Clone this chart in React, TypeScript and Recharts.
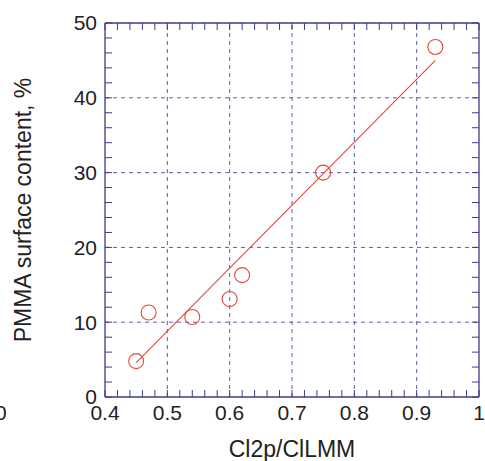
import React from "react";
import {
  ScatterChart,
  Scatter,
  XAxis,
  YAxis,
  ReferenceLine,
  Label,
} from "recharts";

// ---- data ----
const pointX = [0.45, 0.47, 0.54, 0.6, 0.62, 0.75, 0.93];
const pointY = [4.8, 11.3, 10.7, 13.1, 16.3, 30.0, 46.8];
const fitX = [0.45, 0.93];
const fitY = [4.6, 45.0];

// ---- ticks ----
const xMajor = [0.4, 0.5, 0.6, 0.7, 0.8, 0.9, 1];
const xMinor = [
  0.4, 0.42, 0.44, 0.46, 0.48, 0.5, 0.52, 0.54, 0.56, 0.58, 0.6, 0.62, 0.64,
  0.66, 0.68, 0.7, 0.72, 0.74, 0.76, 0.78, 0.8, 0.82, 0.84, 0.86, 0.88, 0.9,
  0.92, 0.94, 0.96, 0.98, 1,
];
const yMajor = [0, 10, 20, 30, 40, 50];
const yMinor = [
  0, 2, 4, 6, 8, 10, 12, 14, 16, 18, 20, 22, 24, 26, 28, 30, 32, 34, 36, 38,
  40, 42, 44, 46, 48, 50,
];
const xGrid = [0.5, 0.6, 0.7, 0.8, 0.9];
const yGrid = [10, 20, 30, 40];

const xTitle = "Cl2p/ClLMM";
const yTitle = "PMMA surface content, %";

const points = pointX.map((x, i) => ({ x, y: pointY[i] }));
const fitSegment = fitX.map((x, i) => ({ x, y: fitY[i] }));

const FONT = "'Liberation Sans', Arial, Helvetica, sans-serif";
const AXIS = "#3b3b8f";
const GRID = "#5c5ca8";
const RED = "#e5483a";
const TEXT = "#222";
const TICK_LEN = 7;
const LABEL_GAP = 8;

const isMajor = (v: number, list: number[]) =>
  list.some((m) => Math.abs(m - v) < 1e-6);

// bottom axis: inward tick + label for major values
const BottomTick = (props: any) => {
  const { x, y, payload } = props;
  const edge = y - LABEL_GAP;
  return (
    <g>
      <line x1={x} y1={edge} x2={x} y2={edge - TICK_LEN} stroke={AXIS} strokeWidth={1} />
      {isMajor(payload.value, xMajor) ? (
        <text x={x} y={y} dy="0.71em" textAnchor="middle" fontFamily={FONT} fontSize={21} fill={TEXT}>
          {String(payload.value)}
        </text>
      ) : null}
    </g>
  );
};

const LeftTick = (props: any) => {
  const { x, y, payload } = props;
  const edge = x + LABEL_GAP;
  return (
    <g>
      <line x1={edge} y1={y} x2={edge + TICK_LEN} y2={y} stroke={AXIS} strokeWidth={1} />
      {isMajor(payload.value, yMajor) ? (
        <text x={x} y={y} dy="0.355em" textAnchor="end" fontFamily={FONT} fontSize={21} fill={TEXT}>
          {String(payload.value)}
        </text>
      ) : null}
    </g>
  );
};

const TopTick = (props: any) => {
  const { x, y } = props;
  return <line x1={x} y1={y} x2={x} y2={y + TICK_LEN} stroke={AXIS} strokeWidth={1} />;
};

const RightTick = (props: any) => {
  const { x, y } = props;
  return <line x1={x} y1={y} x2={x - TICK_LEN} y2={y} stroke={AXIS} strokeWidth={1} />;
};

const YTitle = (props: any) => {
  const vb = props.viewBox;
  const cx = vb.x + 31;
  const cy = vb.y + vb.height / 2;
  return (
    <text
      x={cx}
      y={cy}
      transform={`rotate(-90, ${cx}, ${cy})`}
      textAnchor="middle"
      fontFamily={FONT}
      fontSize={23}
      fill={TEXT}
    >
      {yTitle}
    </text>
  );
};

const XTitle = (props: any) => {
  const vb = props.viewBox;
  return (
    <text
      x={vb.x + vb.width / 2}
      y={vb.y + vb.height - 4}
      textAnchor="middle"
      fontFamily={FONT}
      fontSize={23}
      fill={TEXT}
    >
      {xTitle}
    </text>
  );
};

const StrayZero = (props: any) => {
  const vb = props.viewBox;
  return (
    <text
      x={vb.x - 110}
      y={vb.y + LABEL_GAP}
      dy="0.71em"
      textAnchor="start"
      fontFamily={FONT}
      fontSize={21}
      fill={TEXT}
    >
      0
    </text>
  );
};

const Ring = (props: any) => {
  const { cx, cy } = props;
  return <circle cx={cx} cy={cy} r={7.5} fill="none" stroke={RED} strokeWidth={1.1} />;
};

const borderLine = { stroke: AXIS, strokeWidth: 1.3 };

export default function App() {
  return (
    <div style={{ position: "absolute", left: 0, top: 0, width: 485, height: 461 }}>
      <ScatterChart
        width={485}
        height={461}
        margin={{ top: 0, right: 0, bottom: 0, left: 0 }}
      >
        <XAxis
          xAxisId="main"
          dataKey="x"
          type="number"
          orientation="bottom"
          domain={[0.4, 1]}
          allowDataOverflow
          ticks={xMinor}
          interval={0}
          height={64}
          tickSize={0}
          tickMargin={LABEL_GAP}
          tick={BottomTick}
          tickLine={false}
          axisLine={borderLine}
        >
          <Label content={XTitle} />
          <Label content={StrayZero} />
        </XAxis>
        <XAxis
          xAxisId="top"
          dataKey="x"
          type="number"
          orientation="top"
          domain={[0.4, 1]}
          allowDataOverflow
          ticks={xMinor}
          interval={0}
          height={23}
          tickSize={0}
          tickMargin={0}
          tick={TopTick}
          tickLine={false}
          axisLine={borderLine}
        />
        <YAxis
          yAxisId="main"
          dataKey="y"
          type="number"
          orientation="left"
          domain={[0, 50]}
          allowDataOverflow
          ticks={yMinor}
          interval={0}
          width={105}
          tickSize={0}
          tickMargin={LABEL_GAP}
          tick={LeftTick}
          tickLine={false}
          axisLine={borderLine}
        >
          <Label content={YTitle} />
        </YAxis>
        <YAxis
          yAxisId="right"
          dataKey="y"
          type="number"
          orientation="right"
          domain={[0, 50]}
          allowDataOverflow
          ticks={yMinor}
          interval={0}
          width={6}
          tickSize={0}
          tickMargin={0}
          tick={RightTick}
          tickLine={false}
          axisLine={borderLine}
        />

        {xGrid.map((v) => (
          <ReferenceLine
            key={`gx${v}`}
            xAxisId="main"
            yAxisId="main"
            x={v}
            stroke={GRID}
            strokeWidth={1}
            strokeDasharray="4 4"
          />
        ))}
        {yGrid.map((v) => (
          <ReferenceLine
            key={`gy${v}`}
            xAxisId="main"
            yAxisId="main"
            y={v}
            stroke={GRID}
            strokeWidth={1}
            strokeDasharray="4 4"
          />
        ))}
        <ReferenceLine
          xAxisId="main"
          yAxisId="main"
          segment={fitSegment}
          stroke={RED}
          strokeWidth={1.1}
        />
        <Scatter
          xAxisId="main"
          yAxisId="main"
          data={points}
          shape={Ring}
          isAnimationActive={false}
        />
        <Scatter
          xAxisId="top"
          yAxisId="right"
          data={[]}
          isAnimationActive={false}
        />
      </ScatterChart>
    </div>
  );
}
